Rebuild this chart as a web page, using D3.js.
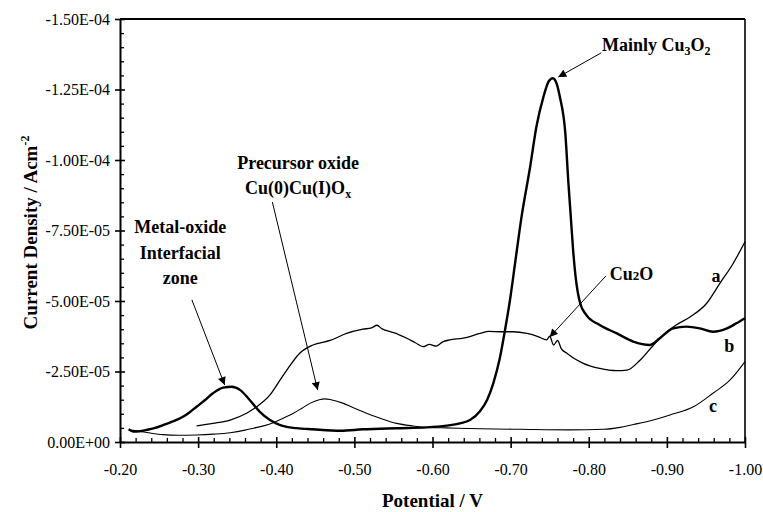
<!DOCTYPE html>
<html><head><meta charset="utf-8">
<script src="https://cdn.jsdelivr.net/npm/d3@7"></script>
<style>body{margin:0;background:#fff}svg{display:block}</style>
</head><body>
<script>
// ---- data (potential in V, current density in A/cm^2) ----
const potB = [-0.211,-0.217,-0.225,-0.234,-0.245,-0.255,-0.266,-0.277,-0.288,-0.298,-0.309,-0.319,-0.332,-0.343,-0.354,-0.366,-0.379,-0.392,-0.405,-0.426,-0.447,-0.482,-0.511,-0.554,-0.593,-0.618,-0.635,-0.648,-0.661,-0.670,-0.678,-0.686,-0.693,-0.699,-0.706,-0.714,-0.725,-0.733,-0.742,-0.749,-0.754,-0.759,-0.763,-0.770,-0.774,-0.777,-0.780,-0.783,-0.789,-0.797,-0.814,-0.836,-0.857,-0.878,-0.891,-0.908,-0.925,-0.942,-0.959,-0.977,-0.989,-1.000];
const curB = [0.45,0.37,0.38,0.43,0.50,0.60,0.71,0.84,1.03,1.25,1.49,1.73,1.93,1.96,1.84,1.49,1.07,0.78,0.60,0.49,0.45,0.40,0.45,0.49,0.52,0.58,0.66,0.78,1.10,1.50,2.10,2.95,4.00,5.00,6.40,7.99,9.76,11.18,12.24,12.80,12.90,12.70,12.24,10.95,9.17,7.99,6.80,5.90,4.92,4.50,4.15,3.85,3.56,3.44,3.68,4.03,4.09,4.03,3.91,4.03,4.21,4.39].map(v => -v*1e-5);

const potA = [-0.298,-0.319,-0.341,-0.362,-0.375,-0.392,-0.405,-0.418,-0.430,-0.447,-0.469,-0.490,-0.511,-0.522,-0.529,-0.535,-0.546,-0.556,-0.567,-0.578,-0.588,-0.596,-0.605,-0.613,-0.622,-0.639,-0.661,-0.672,-0.686,-0.703,-0.721,-0.735,-0.746,-0.750,-0.755,-0.760,-0.765,-0.772,-0.782,-0.793,-0.814,-0.836,-0.849,-0.866,-0.883,-0.900,-0.912,-0.930,-0.951,-0.968,-0.985,-1.000];
const curA = [0.57,0.66,0.78,1.02,1.25,1.67,2.20,2.73,3.15,3.44,3.60,3.85,4.00,4.05,4.14,4.02,3.91,3.82,3.68,3.52,3.38,3.46,3.40,3.55,3.62,3.68,3.85,3.92,3.91,3.91,3.85,3.74,3.62,3.75,3.44,3.60,3.30,3.15,2.95,2.79,2.61,2.53,2.55,2.91,3.44,3.91,4.15,4.44,4.92,5.63,6.34,7.10].map(v => -v*1e-5);

const potC = [-0.213,-0.225,-0.240,-0.255,-0.275,-0.298,-0.320,-0.341,-0.360,-0.371,-0.385,-0.396,-0.410,-0.422,-0.433,-0.443,-0.455,-0.462,-0.470,-0.486,-0.498,-0.511,-0.522,-0.533,-0.554,-0.575,-0.593,-0.618,-0.661,-0.712,-0.776,-0.819,-0.840,-0.857,-0.874,-0.904,-0.934,-0.959,-0.981,-1.000];
const curC = [0.42,0.38,0.31,0.26,0.24,0.25,0.28,0.33,0.42,0.49,0.58,0.68,0.86,1.02,1.20,1.37,1.50,1.53,1.50,1.37,1.22,1.07,0.95,0.84,0.66,0.57,0.52,0.50,0.47,0.45,0.43,0.45,0.52,0.62,0.72,0.96,1.25,1.73,2.20,2.85].map(v => -v*1e-5);

const xTicks = [-0.2,-0.3,-0.4,-0.5,-0.6,-0.7,-0.8,-0.9,-1.0];
const xTickLabels = ["-0.20","-0.30","-0.40","-0.50","-0.60","-0.70","-0.80","-0.90","-1.00"];
const yTicks = [0,-2.5e-5,-5e-5,-7.5e-5,-1e-4,-1.25e-4,-1.5e-4];
const yTickLabels = ["0.00E+00","-2.50E-05","-5.00E-05","-7.50E-05","-1.00E-04","-1.25E-04","-1.50E-04"];

// ---- layout ----
const W = 763, H = 512;
const L = 120, R = 745, T = 19, B = 442;
const x = d3.scaleLinear().domain([-0.2,-1.0]).range([L,R]);
const y = d3.scaleLinear().domain([0,-1.5e-4]).range([B,T]);

const svg = d3.select("body").append("svg").attr("width",W).attr("height",H);
const serif = "'Liberation Serif','Times New Roman',serif";

svg.append("defs").append("marker").attr("id","ah")
  .attr("viewBox","0 0 10 10").attr("refX",10).attr("refY",5)
  .attr("markerWidth",10).attr("markerHeight",8).attr("markerUnits","userSpaceOnUse")
  .attr("orient","auto").append("path").attr("d","M0,0L10,5L0,10Z").attr("fill","#000");

// frame top/right
svg.append("line").attr("x1",L).attr("x2",R).attr("y1",T).attr("y2",T).attr("stroke","#000").attr("stroke-width",2);
svg.append("line").attr("x1",R).attr("x2",R).attr("y1",T).attr("y2",B).attr("stroke","#000").attr("stroke-width",1.6);

// minor ticks
const xMinor = d3.range(0,41).map(i => -0.2 - i*0.02).filter(v => Math.abs(Math.round(v*10)-v*10) > 1e-6);
const yMinor = d3.range(0,31).map(i => -i*5e-6).filter(v => Math.abs(v/2.5e-5 - Math.round(v/2.5e-5)) > 1e-6);

svg.append("g").attr("transform",`translate(0,${B})`)
  .call(d3.axisTop(x).tickValues(xMinor).tickSize(4).tickFormat(""))
  .call(g => { g.select(".domain").remove(); g.selectAll("line").attr("stroke-width",1.3); });
svg.append("g").attr("transform",`translate(${L},0)`)
  .call(d3.axisRight(y).tickValues(yMinor).tickSize(4).tickFormat(""))
  .call(g => { g.select(".domain").remove(); g.selectAll("line").attr("stroke-width",1.3); });

// major axes
const gx = svg.append("g").attr("transform",`translate(0,${B})`)
  .call(d3.axisBottom(x).tickValues(xTicks).tickSizeInner(6).tickSizeOuter(0).tickPadding(16)
    .tickFormat((d,i) => xTickLabels[i]));
gx.select(".domain").attr("stroke-width",2);
gx.selectAll(".tick line").attr("y1",-5).attr("stroke-width",1.6);
gx.selectAll("text").attr("font-family",serif).attr("font-size",16).attr("fill","#000");

const gy = svg.append("g").attr("transform",`translate(${L},0)`)
  .call(d3.axisLeft(y).tickValues(yTicks).tickSizeInner(5).tickSizeOuter(0).tickPadding(5)
    .tickFormat((d,i) => yTickLabels[i]));
gy.select(".domain").attr("stroke-width",2);
gy.selectAll(".tick line").attr("x1",5).attr("stroke-width",1.6);
gy.selectAll("text").attr("font-family",serif).attr("font-size",16).attr("fill","#000");

// curves
const line = d3.line().x(d => x(d[0])).y(d => y(d[1])).curve(d3.curveMonotoneX);
function draw(p, c, w){
  svg.append("path").datum(p.map((v,i) => [v,c[i]])).attr("d",line)
    .attr("fill","none").attr("stroke","#000").attr("stroke-width",w).attr("stroke-linejoin","round");
}
draw(potC, curC, 1.1);
draw(potA, curA, 1.3);
draw(potB, curB, 2.4);

// axis titles
svg.append("text").attr("x",(L+R)/2).attr("y",507).attr("text-anchor","middle")
  .attr("font-family",serif).attr("font-weight","bold").attr("font-size",19).text("Potential / V");
const yt = svg.append("text").attr("transform",`translate(37,${(T+B)/2+2}) rotate(-90)`).attr("text-anchor","middle")
  .attr("font-family",serif).attr("font-weight","bold").attr("font-size",19);
yt.append("tspan").text("Current Density / Acm");
yt.append("tspan").attr("font-size",12).attr("dy",-8).text("-2");

// annotations
function txt(v, c, anchor){
  return svg.append("text").attr("x",x(v)).attr("y",y(c)).attr("text-anchor",anchor||"middle")
    .attr("font-family",serif).attr("font-weight","bold").attr("font-size",18);
}
function arrow(v1,c1,v2,c2){
  svg.append("line").attr("x1",x(v1)).attr("y1",y(c1)).attr("x2",x(v2)).attr("y2",y(c2))
    .attr("stroke","#000").attr("stroke-width",1).attr("marker-end","url(#ah)");
}
let t = txt(-0.817,-13.88e-5,"start"); t.append("tspan").text("Mainly Cu");
t.append("tspan").attr("font-size",12).attr("dy",4).text("3");
t.append("tspan").attr("dy",-4).text("O");
t.append("tspan").attr("font-size",12).attr("dy",4).text("2");
arrow(-0.816,-13.8e-5,-0.761,-12.94e-5);

t = txt(-0.827,-5.74e-5,"start"); t.append("tspan").text("Cu");
t.append("tspan").attr("font-size",13).text("2");
t.append("tspan").text("O");
arrow(-0.822,-5.89e-5,-0.750,-3.72e-5);

txt(-0.428,-9.68e-5).text("Precursor oxide");
t = txt(-0.428,-8.79e-5); t.append("tspan").text("Cu(0)Cu(I)O");
t.append("tspan").attr("font-size",12).attr("dy",4).text("x");
arrow(-0.395,-8.51e-5,-0.453,-1.84e-5);

txt(-0.277,-7.4e-5).text("Metal-oxide");
txt(-0.277,-6.48e-5).text("Interfacial");
txt(-0.277,-5.6e-5).text("zone");
arrow(-0.292,-5.04e-5,-0.334,-2.02e-5);

txt(-0.963,-5.67e-5).text("a");
txt(-0.980,-3.19e-5).text("b");
txt(-0.959,-1.06e-5).text("c");
</script>
</body></html>
